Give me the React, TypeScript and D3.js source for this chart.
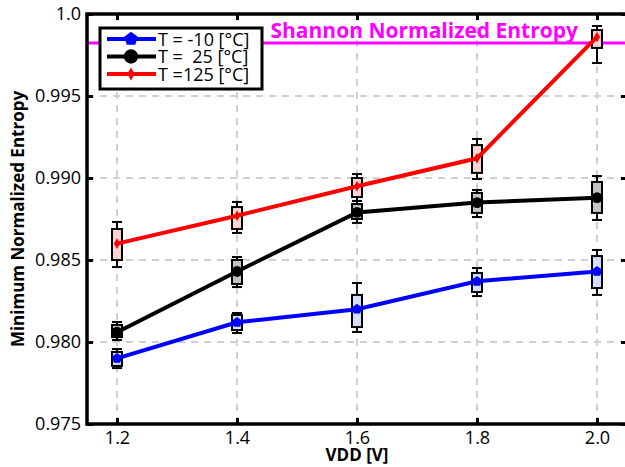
import React, { useEffect, useRef } from "react";
import * as d3 from "d3";

// x categories (VDD [V])
const vdd = [1.2, 1.4, 1.6, 1.8, 2.0];
const xTickLabels = ["1.2", "1.4", "1.6", "1.8", "2.0"];
const yTicks = [0.975, 0.98, 0.985, 0.99, 0.995, 1.0];
const yTickLabels = ["0.975", "0.980", "0.985", "0.990", "0.995", "1.0"];

// line values (median-ish points)
const tMinus10 = [0.9790, 0.9812, 0.9820, 0.9837, 0.9843];
const t25 = [0.9806, 0.9843, 0.9879, 0.9885, 0.9888];
const t125 = [0.9860, 0.9877, 0.9895, 0.9912, 0.9986];

// box stats: [whiskerLow, q1, q3, whiskerHigh]
const boxMinus10 = [
  [0.97841, 0.97854, 0.97939, 0.97957],
  [0.98055, 0.98073, 0.98165, 0.98177],
  [0.98061, 0.98091, 0.98287, 0.9836],
  [0.9828, 0.98305, 0.98421, 0.98451],
  [0.98287, 0.98329, 0.98524, 0.98561],
];
const box25 = [
  [0.98012, 0.9803, 0.98104, 0.98122],
  [0.98335, 0.98354, 0.985, 0.98518],
  [0.98726, 0.9875, 0.98841, 0.9886],
  [0.98762, 0.98787, 0.98909, 0.98927],
  [0.98744, 0.98787, 0.98976, 0.99012],
];
const box125 = [
  [0.98457, 0.985, 0.98689, 0.98732],
  [0.98665, 0.98689, 0.98823, 0.98854],
  [0.9886, 0.98884, 0.99, 0.99024],
  [0.98994, 0.99031, 0.99201, 0.99238],
  [0.99701, 0.99793, 0.99902, 0.99927],
];

const shannon = 0.99823;
const legendLabels = ["T = -10 [°C]", "T =  25 [°C]", "T =125 [°C]"];

const FONT = "'Open Sans', 'Noto Sans', sans-serif";

const pentagon = (r: number) => {
  const pts = d3.range(5).map((i) => {
    const a = -Math.PI / 2 + (i * 2 * Math.PI) / 5;
    return [r * Math.cos(a), r * Math.sin(a)];
  });
  return "M" + pts.map((p) => p.join(",")).join("L") + "Z";
};

export default function App() {
  const ref = useRef<SVGSVGElement>(null);

  useEffect(() => {
    const width = 625;
    const height = 467;
    const margin = { top: 14, right: -2, bottom: 43, left: 87 };
    const svg = d3.select(ref.current);
    svg.selectAll("*").remove();

    const w = width - margin.left - margin.right;
    const h = height - margin.top - margin.bottom;
    const x = d3.scaleLinear().domain([1.15, 2.05]).range([0, w]);
    const y = d3.scaleLinear().domain([0.975, 1.0]).range([h, 0]);

    const g = svg.append("g").attr("transform", `translate(${margin.left},${margin.top})`);

    // grid
    g.append("g")
      .selectAll("line")
      .data(vdd)
      .enter()
      .append("line")
      .attr("x1", (d) => x(d))
      .attr("x2", (d) => x(d))
      .attr("y1", 0)
      .attr("y2", h)
      .attr("stroke", "#d0d0d0")
      .attr("stroke-width", 2)
      .attr("stroke-dasharray", "7,6");
    g.append("g")
      .selectAll("line")
      .data(yTicks.slice(1, -1))
      .enter()
      .append("line")
      .attr("x1", 0)
      .attr("x2", w)
      .attr("y1", (d) => y(d))
      .attr("y2", (d) => y(d))
      .attr("stroke", "#d0d0d0")
      .attr("stroke-width", 2)
      .attr("stroke-dasharray", "7,6");

    // shannon line
    g.append("line")
      .attr("x1", 0)
      .attr("x2", w)
      .attr("y1", y(shannon))
      .attr("y2", y(shannon))
      .attr("stroke", "#ff00ff")
      .attr("stroke-width", 3);
    g.append("text")
      .attr("x", 491)
      .attr("y", y(shannon) - 5)
      .attr("text-anchor", "end")
      .attr("fill", "#ff00ff")
      .style("font-family", FONT)
      .style("font-weight", "bold")
      .style("font-size", "21px")
      .text("Shannon Normalized Entropy");

    // boxes
    const series = [
      { vals: tMinus10, boxes: boxMinus10, color: "#0000ff", fill: "#d4defa", marker: "pent" },
      { vals: t25, boxes: box25, color: "#000000", fill: "#c4c4c4", marker: "circle" },
      { vals: t125, boxes: box125, color: "#ff0000", fill: "#f9d2d2", marker: "diamond" },
    ];
    const bw = 10;
    series.forEach((s) => {
      const bg = g.append("g");
      s.boxes.forEach((b, i) => {
        const cx = x(vdd[i]);
        bg.append("line").attr("x1", cx).attr("x2", cx).attr("y1", y(b[0])).attr("y2", y(b[3]))
          .attr("stroke", "#000").attr("stroke-width", 2);
        [b[0], b[3]].forEach((v) => {
          bg.append("line").attr("x1", cx - bw / 2).attr("x2", cx + bw / 2).attr("y1", y(v)).attr("y2", y(v))
            .attr("stroke", "#000").attr("stroke-width", 2);
        });
        bg.append("rect").attr("x", cx - bw / 2).attr("width", bw).attr("y", y(b[2]))
          .attr("height", y(b[1]) - y(b[2]))
          .attr("fill", s.fill).attr("stroke", "#000").attr("stroke-width", 2);
      });
    });

    // lines + markers
    const line = d3.line<number>().x((d, i) => x(vdd[i])).y((d) => y(d));
    const drawMarker = (sel: any, kind: string, color: string, cx: number, cy: number, scale = 1) => {
      if (kind === "circle") {
        sel.append("circle").attr("cx", cx).attr("cy", cy).attr("r", 6 * scale).attr("fill", color);
      } else if (kind === "pent") {
        sel.append("path").attr("d", pentagon(6 * scale)).attr("transform", `translate(${cx},${cy})`).attr("fill", color);
      } else {
        sel.append("path").attr("d", d3.symbol(d3.symbolDiamond, 40 * scale * scale)()).attr("transform", `translate(${cx},${cy})`).attr("fill", color);
      }
    };
    series.forEach((s) => {
      g.append("path").datum(s.vals).attr("d", line).attr("fill", "none")
        .attr("stroke", s.color).attr("stroke-width", 4);
      s.vals.forEach((v, i) => drawMarker(g, s.marker, s.color, x(vdd[i]), y(v), 0.9));
    });

    // axes frame
    const axisStyle = (a: any) => {
      a.select(".domain").remove();
      a.selectAll(".tick line").attr("stroke", "#000").attr("stroke-width", 3);
      a.selectAll(".tick text").style("font-family", FONT).style("font-size", "18px").attr("fill", "#000");
    };
    const xb = g.append("g").attr("transform", `translate(0,${h})`)
      .call(d3.axisBottom(x).tickValues(vdd).tickSize(-6).tickPadding(7).tickFormat((d, i) => xTickLabels[i]));
    axisStyle(xb);
    const xt = g.append("g").call(d3.axisTop(x).tickValues(vdd).tickSize(-6).tickFormat(() => ""));
    axisStyle(xt);
    const yl = g.append("g")
      .call(d3.axisLeft(y).tickValues(yTicks).tickSize(-6).tickPadding(6).tickFormat((d, i) => yTickLabels[i]));
    axisStyle(yl);
    const yr = g.append("g").attr("transform", `translate(${w},0)`)
      .call(d3.axisRight(y).tickValues(yTicks).tickSize(-6).tickFormat(() => ""));
    axisStyle(yr);
    g.append("rect").attr("x", 0).attr("y", 0).attr("width", w).attr("height", h)
      .attr("fill", "none").attr("stroke", "#000").attr("stroke-width", 3.5);

    // legend
    const lg = svg.append("g").attr("transform", "translate(100,28)");
    lg.append("rect").attr("width", 162).attr("height", 61).attr("fill", "#fff")
      .attr("stroke", "#000").attr("stroke-width", 3);
    series.forEach((s, i) => {
      const ly = 11 + i * 17.5;
      lg.append("line").attr("x1", 7).attr("x2", 56).attr("y1", ly).attr("y2", ly)
        .attr("stroke", s.color).attr("stroke-width", 4);
      drawMarker(lg, s.marker, s.color, 31, ly, s.marker === "diamond" ? 1.1 : 1.2);
      lg.append("text").attr("x", 58).attr("y", ly + 6.5)
        .style("font-family", FONT).style("font-size", "18px").style("white-space", "pre")
        .attr("xml:space", "preserve")
        .text(legendLabels[i]);
    });

    // axis labels
    svg.append("text").attr("x", margin.left + x(1.6)).attr("y", 461).attr("text-anchor", "middle")
      .style("font-family", FONT).style("font-weight", "bold").style("font-size", "17px").text("VDD [V]");
    svg.append("text").attr("transform", `translate(24,${margin.top + h / 2}) rotate(-90)`)
      .attr("text-anchor", "middle")
      .style("font-family", FONT).style("font-weight", "bold").style("font-size", "17px")
      .text("Minimum Normalized Entropy");
  }, []);

  return (
    <svg ref={ref} width={625} height={467}
      style={{ position: "absolute", left: 0, top: 0, background: "#fff" }} />
  );
}
